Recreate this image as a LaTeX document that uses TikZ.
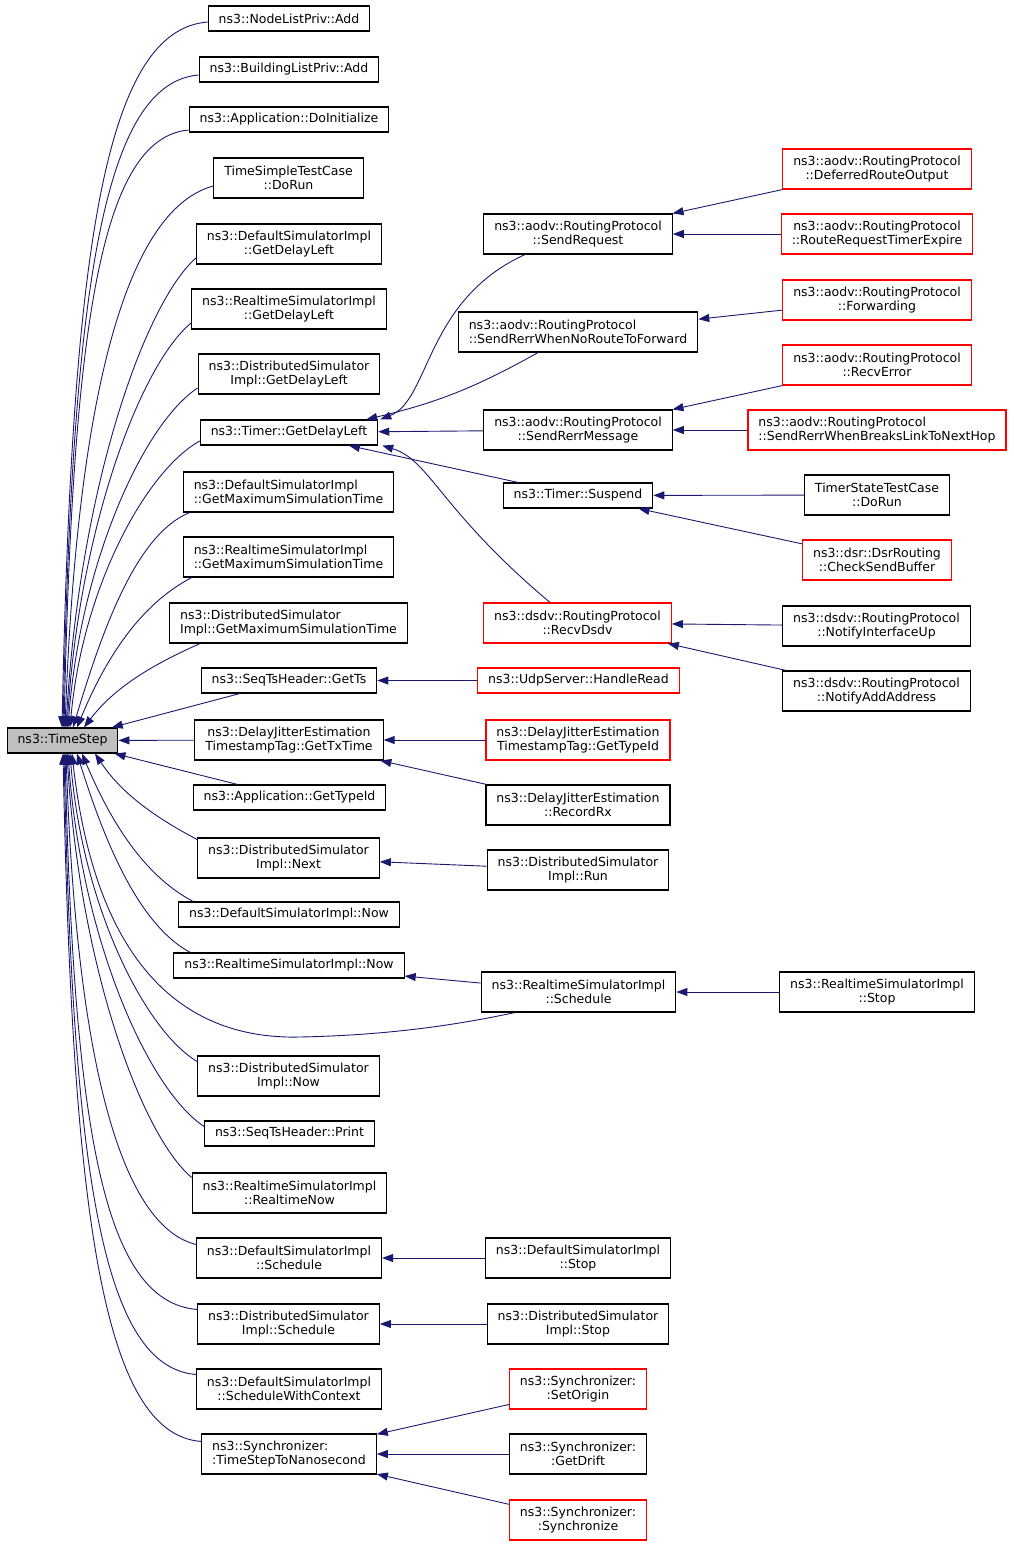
\documentclass[tikz,border=0pt]{standalone}
\usepackage{fontspec}
\setmainfont{DejaVu Sans}
\usetikzlibrary{arrows.meta}
\definecolor{edgeblue}{HTML}{191970}
\begin{document}
\begin{tikzpicture}[x=1pt, y=1pt,
	fn/.style={draw=black, fill=white, line width=1.1pt, inner xsep=10.5pt, inner ysep=1pt, minimum height=25pt, font=\fontsize{12.5}{14.5}\selectfont},
	fn2/.style={fn, minimum height=40pt, align=center},
	fn2l/.style={fn, minimum height=40pt, align=left},
	trunc/.style={draw=red},
	callline/.style={draw=edgeblue, line width=0.9pt, >={Triangle[length=11pt, width=8pt]}, <-}]
		\useasboundingbox (0,0) rectangle (1013,-1545);
		
		% the function itself
		\node[fn, fill=black!25] (ts) at (62.5,-740.5) {ns3::TimeStep};
		
		% direct callers
		\node[fn] (nodelist) at (289,-18.5) {ns3::NodeListPriv::Add};
		\node[fn] (buildinglist) at (289,-69.5) {ns3::BuildingListPriv::Add};
		\node[fn] (appinit) at (289,-119.5) {ns3::Application::DoInitialize};
		\node[fn2] (simpletest) at (288.5,-178) {TimeSimpleTestCase\\::DoRun};
		\node[fn2] (defdelay) at (289,-244) {ns3::DefaultSimulatorImpl\\::GetDelayLeft};
		\node[fn2] (rtdelay) at (289,-309) {ns3::RealtimeSimulatorImpl\\::GetDelayLeft};
		\node[fn2] (distdelay) at (289,-374) {ns3::DistributedSimulator\\Impl::GetDelayLeft};
		\node[fn] (timerdelay) at (289,-432.5) {ns3::Timer::GetDelayLeft};
		\node[fn2l] (defmax) at (288.5,-492) {ns3::DefaultSimulatorImpl\\::GetMaximumSimulationTime};
		\node[fn2l] (rtmax) at (288.5,-557) {ns3::RealtimeSimulatorImpl\\::GetMaximumSimulationTime};
		\node[fn2l] (distmax) at (288.5,-623) {ns3::DistributedSimulator\\Impl::GetMaximumSimulationTime};
		\node[fn] (getts) at (289,-680.5) {ns3::SeqTsHeader::GetTs};
		\node[fn2] (gettxtime) at (289,-740) {ns3::DelayJitterEstimation\\TimestampTag::GetTxTime};
		\node[fn] (apptypeid) at (289.5,-797.5) {ns3::Application::GetTypeId};
		\node[fn2] (distnext) at (288.5,-858) {ns3::DistributedSimulator\\Impl::Next};
		\node[fn] (defnow) at (289,-914.5) {ns3::DefaultSimulatorImpl::Now};
		\node[fn] (rtnow) at (289,-965.5) {ns3::RealtimeSimulatorImpl::Now};
		\node[fn2] (distnow) at (288.5,-1076) {ns3::DistributedSimulator\\Impl::Now};
		\node[fn] (seqprint) at (289.5,-1133.5) {ns3::SeqTsHeader::Print};
		\node[fn2] (rtrealnow) at (289.5,-1193) {ns3::RealtimeSimulatorImpl\\::RealtimeNow};
		\node[fn2] (defsched) at (289,-1258) {ns3::DefaultSimulatorImpl\\::Schedule};
		\node[fn2] (distsched) at (288.5,-1324) {ns3::DistributedSimulator\\Impl::Schedule};
		\node[fn2] (defschedctx) at (289,-1389) {ns3::DefaultSimulatorImpl\\::ScheduleWithContext};
		\node[fn2l] (tonano) at (289,-1454) {ns3::Synchronizer:\\:TimeStepToNanosecond};
		
		% second level
		\node[fn2] (sendreq) at (578,-234) {ns3::aodv::RoutingProtocol\\::SendRequest};
		\node[fn2l] (rerrnoroute) at (578,-332) {ns3::aodv::RoutingProtocol\\::SendRerrWhenNoRouteToForward};
		\node[fn2] (rerrmsg) at (578,-430) {ns3::aodv::RoutingProtocol\\::SendRerrMessage};
		\node[fn] (suspend) at (578,-495.5) {ns3::Timer::Suspend};
		\node[fn2, trunc] (recvdsdv) at (577.5,-623) {ns3::dsdv::RoutingProtocol\\::RecvDsdv};
		\node[fn, trunc] (handleread) at (578.5,-680.5) {ns3::UdpServer::HandleRead};
		\node[fn2, trunc] (tagtypeid) at (578,-740) {ns3::DelayJitterEstimation\\TimestampTag::GetTypeId};
		\node[fn2] (recordrx) at (578,-805) {ns3::DelayJitterEstimation\\::RecordRx};
		\node[fn2] (distrun) at (578,-870) {ns3::DistributedSimulator\\Impl::Run};
		\node[fn2] (rtsched) at (578.5,-992) {ns3::RealtimeSimulatorImpl\\::Schedule};
		\node[fn2] (defstop) at (578,-1258) {ns3::DefaultSimulatorImpl\\::Stop};
		\node[fn2] (diststop) at (578,-1324) {ns3::DistributedSimulator\\Impl::Stop};
		\node[fn2, trunc] (setorigin) at (578,-1389) {ns3::Synchronizer:\\:SetOrigin};
		\node[fn2] (getdrift) at (578,-1454) {ns3::Synchronizer:\\:GetDrift};
		\node[fn2, trunc] (synchronize) at (578,-1520) {ns3::Synchronizer:\\:Synchronize};
		
		% third level
		\node[fn2, trunc] (deferred) at (877,-169) {ns3::aodv::RoutingProtocol\\::DeferredRouteOutput};
		\node[fn2, trunc] (routereq) at (877,-234) {ns3::aodv::RoutingProtocol\\::RouteRequestTimerExpire};
		\node[fn2, trunc] (forwarding) at (877,-300) {ns3::aodv::RoutingProtocol\\::Forwarding};
		\node[fn2, trunc] (recverror) at (877,-365) {ns3::aodv::RoutingProtocol\\::RecvError};
		\node[fn2l, trunc] (rerrbreaks) at (877,-430) {ns3::aodv::RoutingProtocol\\::SendRerrWhenBreaksLinkToNextHop};
		\node[fn2] (timerstate) at (877,-495) {TimerStateTestCase\\::DoRun};
		\node[fn2, trunc] (checkbuf) at (877,-560) {ns3::dsr::DsrRouting\\::CheckSendBuffer};
		\node[fn2] (ifaceup) at (876.5,-626) {ns3::dsdv::RoutingProtocol\\::NotifyInterfaceUp};
		\node[fn2] (addaddr) at (876.5,-691) {ns3::dsdv::RoutingProtocol\\::NotifyAddAddress};
		\node[fn2] (rtstop) at (877,-992) {ns3::RealtimeSimulatorImpl\\::Stop};
		
		% calls from above
		\draw[callline] ([xshift=-0.5pt]ts.north) .. controls (72,-248) and (105,-30) .. ([yshift=-3.5pt]nodelist.west);
		\draw[callline] ([xshift=0.5pt]ts.north) .. controls (72.5,-284) and (104,-83) .. ([yshift=-5.5pt]buildinglist.west);
		\draw[callline] ([xshift=1.5pt]ts.north) .. controls (73,-321) and (101.5,-138) .. ([yshift=-10.5pt]appinit.west);
		\draw[callline] ([xshift=2.5pt]ts.north) .. controls (77,-400) and (125,-210) .. ([yshift=-8pt]simpletest.west);
		\draw[callline] ([xshift=3.5pt]ts.north) .. controls (79,-493) and (143,-305) .. ([yshift=-14pt]defdelay.west);
		\draw[callline] ([xshift=4.5pt]ts.north) .. controls (79.4,-525.5) and (141.4,-363.5) .. ([yshift=-14pt]rtdelay.west);
		\draw[callline] ([xshift=5.5pt]ts.north) .. controls (81,-558) and (145.4,-422) .. ([yshift=-14pt]distdelay.west);
		\draw[callline] ([xshift=7.5pt]ts.north) .. controls (83,-584.5) and (147.4,-469.7) .. ([yshift=-8.5pt]timerdelay.west);
		\draw[callline] ([xshift=10.5pt]ts.north) .. controls (102,-631) and (136,-534) .. ([xshift=7pt]defmax.south west);
		\draw[callline] ([xshift=14.5pt]ts.north) .. controls (105,-660) and (139,-605) .. ([xshift=9pt]rtmax.south west);
		\draw[callline] ([xshift=21.5pt]ts.north) .. controls (112.5,-690) and (147,-667) .. ([xshift=31pt]distmax.south west);
		\draw[callline] (ts) -- (getts);
		\draw[callline] (ts) -- (gettxtime);
		
		% calls from below
		\draw[callline] (ts) -- (apptypeid);
		\draw[callline] ([xshift=32.5pt]ts.south) .. controls (120,-791) and (150.5,-815) .. ([yshift=-2pt]distnext.north west);
		\draw[callline] ([xshift=19.5pt]ts.south) .. controls (110,-820) and (143,-875) .. ([xshift=15pt]defnow.north west);
		\draw[callline] ([xshift=14.5pt]ts.south) .. controls (105,-843) and (139,-925) .. ([xshift=17pt]rtnow.north west);
		\draw[callline] ([xshift=9.5pt]ts.south) .. controls (95,-960) and (180,-1040) .. (300,-1037) .. controls (400,-1035) and (470,-1022) .. ([xshift=-63.5pt]rtsched.south);
		\draw[callline] ([xshift=7.5pt]ts.south) .. controls (82.6,-907.5) and (145.6,-1031) .. ([yshift=-6pt]distnow.north west);
		\draw[callline] ([xshift=5.5pt]ts.south) .. controls (81.4,-940) and (148.4,-1089.6) .. ([yshift=-6pt]seqprint.north west);
		\draw[callline] ([xshift=4.5pt]ts.south) .. controls (79.4,-965.5) and (141.4,-1135.5) .. ([yshift=-5pt]rtrealnow.north west);
		\draw[callline] ([xshift=3.5pt]ts.south) .. controls (76,-1050) and (118,-1225) .. ([yshift=-7pt]defsched.north west);
		\draw[callline] ([xshift=2.5pt]ts.south) .. controls (74,-1132) and (104,-1302) .. ([yshift=-6pt]distsched.north west);
		\draw[callline] ([xshift=1.5pt]ts.south) .. controls (73,-1176) and (103,-1367) .. ([yshift=-6pt]defschedctx.north west);
		\draw[callline] ([xshift=0.5pt]ts.south) .. controls (72.5,-1221.5) and (104,-1434) .. ([yshift=-8pt]tonano.north west);
		
		% callers of ns3::Timer::GetDelayLeft
		\draw[callline] ([xshift=2pt]timerdelay.north east) .. controls (430,-400) and (425,-300) .. ([xshift=-53pt]sendreq.south);
		\draw[callline] ([xshift=-12pt]timerdelay.north east) to[bend right=8] ([xshift=-40pt]rerrnoroute.south);
		\draw[callline] (timerdelay) -- (rerrmsg);
		\draw[callline] (timerdelay) -- (suspend);
		\draw[callline] ([xshift=4pt]timerdelay.south east) .. controls (430,-460) and (440,-510) .. ([xshift=-27.5pt]recvdsdv.north);
		
		% further calls
		\draw[callline] (sendreq) -- (deferred);
		\draw[callline] (sendreq) -- (routereq);
		\draw[callline] (rerrnoroute) -- (forwarding);
		\draw[callline] (rerrmsg) -- (recverror);
		\draw[callline] (rerrmsg) -- (rerrbreaks);
		\draw[callline] (suspend) -- (timerstate);
		\draw[callline] (suspend) -- (checkbuf);
		\draw[callline] (recvdsdv) -- (ifaceup);
		\draw[callline] (recvdsdv) -- (addaddr);
		\draw[callline] (getts) -- (handleread);
		\draw[callline] (gettxtime) -- (tagtypeid);
		\draw[callline] (gettxtime) -- (recordrx);
		\draw[callline] (distnext) -- (distrun);
		\draw[callline] (rtnow) -- (rtsched);
		\draw[callline] (rtsched) -- (rtstop);
		\draw[callline] (defsched) -- (defstop);
		\draw[callline] (distsched) -- (diststop);
		\draw[callline] (tonano) -- (setorigin);
		\draw[callline] (tonano) -- (getdrift);
		\draw[callline] (tonano) -- (synchronize);
		
	\end{tikzpicture}
\end{document}
